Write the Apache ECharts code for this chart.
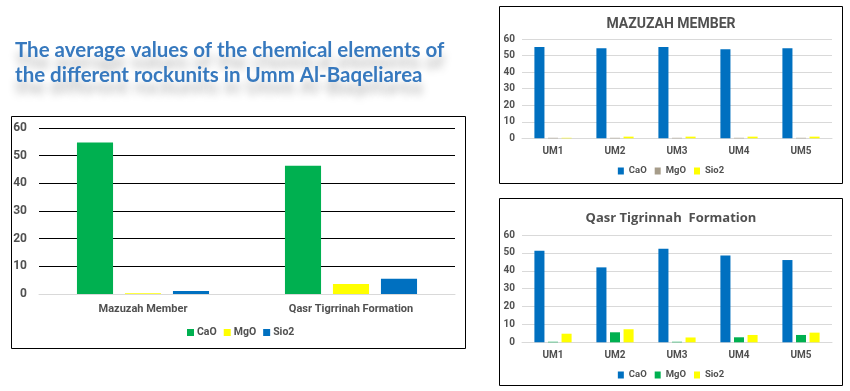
<!DOCTYPE html>
<html><head><meta charset="utf-8">
<script src="https://cdn.jsdelivr.net/npm/echarts@6/dist/echarts.min.js"></script>
<style>
html,body{margin:0;padding:0;background:#fff;width:850px;height:391px;overflow:hidden}
#main{position:absolute;left:0;top:0;width:850px;height:391px}
#top{position:absolute;left:499px;top:6px;width:344px;height:178px}
#bot{position:absolute;left:499px;top:198px;width:344px;height:188px}
</style></head><body>
<div id="main"></div><div id="top"></div><div id="bot"></div>
<script>
// ---- data ----
const titleLines = ['The average values of the chemical elements of', 'the different rockunits in Umm Al-Baqeliarea'];
const legendNames = ['CaO', 'MgO', 'Sio2'];
const leftCategories = ['Mazuzah Member', 'Qasr Tigrrinah Formation'];
const leftCaO = [54.8, 46.4];
const leftMgO = [0.3, 3.6];
const leftSiO2 = [1.1, 5.5];
const unitCategories = ['UM1', 'UM2', 'UM3', 'UM4', 'UM5'];
const mazTitle = 'MAZUZAH MEMBER';
const mazCaO = [55.2, 54.4, 55.2, 53.8, 54.4];
const mazMgO = [0.3, 0.3, 0.3, 0.3, 0.3];
const mazSiO2 = [0.3, 1.0, 1.0, 1.0, 1.0];
const qasrTitle = 'Qasr Tigrinnah  Formation';
const qasrCaO = [51.2, 41.9, 52.3, 48.6, 46.0];
const qasrMgO = [0.3, 5.6, 0.3, 2.8, 4.1];
const qasrSiO2 = [4.8, 7.3, 2.7, 4.1, 5.4];
const yTicks = {min: 0, max: 60, interval: 10};

// ---- styles ----
const FONT = 'Roboto, "Liberation Sans", sans-serif';
const GREY = '#505050';
const BLUE = '#0070C0', GREEN = '#00B050', YELLOW = '#FFFF00', TAN = '#A69C8A';

function bars(names, arrays, colors, catGap, gap) {
  return arrays.map((d, i) => ({
    type: 'bar', name: names[i], data: d,
    barCategoryGap: catGap, barGap: gap,
    itemStyle: {color: colors[i]}
  }));
}

const titleStyle = {font: 'bold 20.5px Lato, "Open Sans", sans-serif', fill: '#3779BE',
  textShadowColor: 'rgba(0,0,0,0.28)', textShadowBlur: 9, textShadowOffsetY: 12};

// ---- main chart (left + title + frame) ----
const main = echarts.init(document.getElementById('main'), null, {renderer: 'canvas'});
main.setOption({
  animation: false,
  graphic: [
    {type: 'text', left: 15, top: 40, style: Object.assign({text: titleLines[0]}, titleStyle)},
    {type: 'text', left: 15, top: 65, style: Object.assign({text: titleLines[1]}, titleStyle)},
    {type: 'rect', shape: {x: 11.5, y: 116.5, width: 454, height: 232}, style: {fill: 'none', stroke: '#000', lineWidth: 1}, silent: true}
  ],
  legend: {
    data: legendNames, left: 187, top: 327, itemWidth: 7, itemHeight: 7, itemGap: 7,
    icon: 'rect', textStyle: {fontFamily: FONT, fontWeight: 'bold', fontSize: 10.5, color: GREY, padding: [0, 0, 0, -2]},
    padding: 0
  },
  grid: {left: 39, right: 395, top: 128, bottom: 97},
  xAxis: {type: 'category', data: leftCategories,
    axisLine: {lineStyle: {color: '#D9D9D9'}}, axisTick: {show: false},
    axisLabel: {fontFamily: FONT, fontWeight: 'bold', fontSize: 11, color: GREY, margin: 10}},
  yAxis: {type: 'value', min: yTicks.min, max: yTicks.max, interval: yTicks.interval,
    axisLine: {show: false}, axisTick: {show: false},
    splitLine: {lineStyle: {color: '#000', width: 1}},
    axisLabel: {fontFamily: FONT, fontWeight: 'bold', fontSize: 12, color: GREY, margin: 12}},
  series: bars(legendNames, [leftCaO, leftMgO, leftSiO2], [GREEN, YELLOW, BLUE], '36.5%', '33%')
});

function small(el, title, titleStyle, arrays, colors, gridTop, gridBottom, legendTop, titleTop) {
  const c = echarts.init(el, null, {renderer: 'canvas'});
  c.setOption({
    animation: false,
    title: {text: title, left: 'center', top: titleTop,
      textStyle: Object.assign({color: GREY}, titleStyle)},
    graphic: [{type: 'rect', shape: {x: 0.5, y: 0.5, width: 343, height: el.clientHeight - 1},
      style: {fill: 'none', stroke: '#000', lineWidth: 1}, silent: true}],
    legend: {data: legendNames, left: 'center', top: legendTop, itemWidth: 6, itemHeight: 7, itemGap: 8,
      icon: 'rect', padding: 0,
      textStyle: {fontFamily: FONT, fontWeight: 'bold', fontSize: 9.5, color: GREY}},
    grid: {left: 23, right: 11, top: gridTop, bottom: gridBottom},
    xAxis: {type: 'category', data: unitCategories,
      axisLine: {lineStyle: {color: '#D9D9D9'}}, axisTick: {show: false},
      axisLabel: {fontFamily: FONT, fontWeight: 'bold', fontSize: 10, color: GREY, margin: 8}},
    yAxis: {type: 'value', min: yTicks.min, max: yTicks.max, interval: yTicks.interval,
      axisLine: {show: false}, axisTick: {show: false},
      splitLine: {lineStyle: {color: '#D9D9D9', width: 1}},
      axisLabel: {fontFamily: FONT, fontWeight: 'bold', fontSize: 10, color: GREY, margin: 7}},
    series: bars(legendNames, arrays, colors, '40%', '35%')
  });
}
small(document.getElementById('top'), mazTitle,
  {fontFamily: 'Roboto, sans-serif', fontWeight: 'bold', fontSize: 14},
  [mazCaO, mazMgO, mazSiO2], [BLUE, TAN, YELLOW], 33, 45.7, 160, 6);
small(document.getElementById('bot'), qasrTitle,
  {fontFamily: '"Open Sans", sans-serif', fontWeight: 'bold', fontSize: 13},
  [qasrCaO, qasrMgO, qasrSiO2], [BLUE, GREEN, YELLOW], 37, 43.7, 172, 9);
</script></body></html>
